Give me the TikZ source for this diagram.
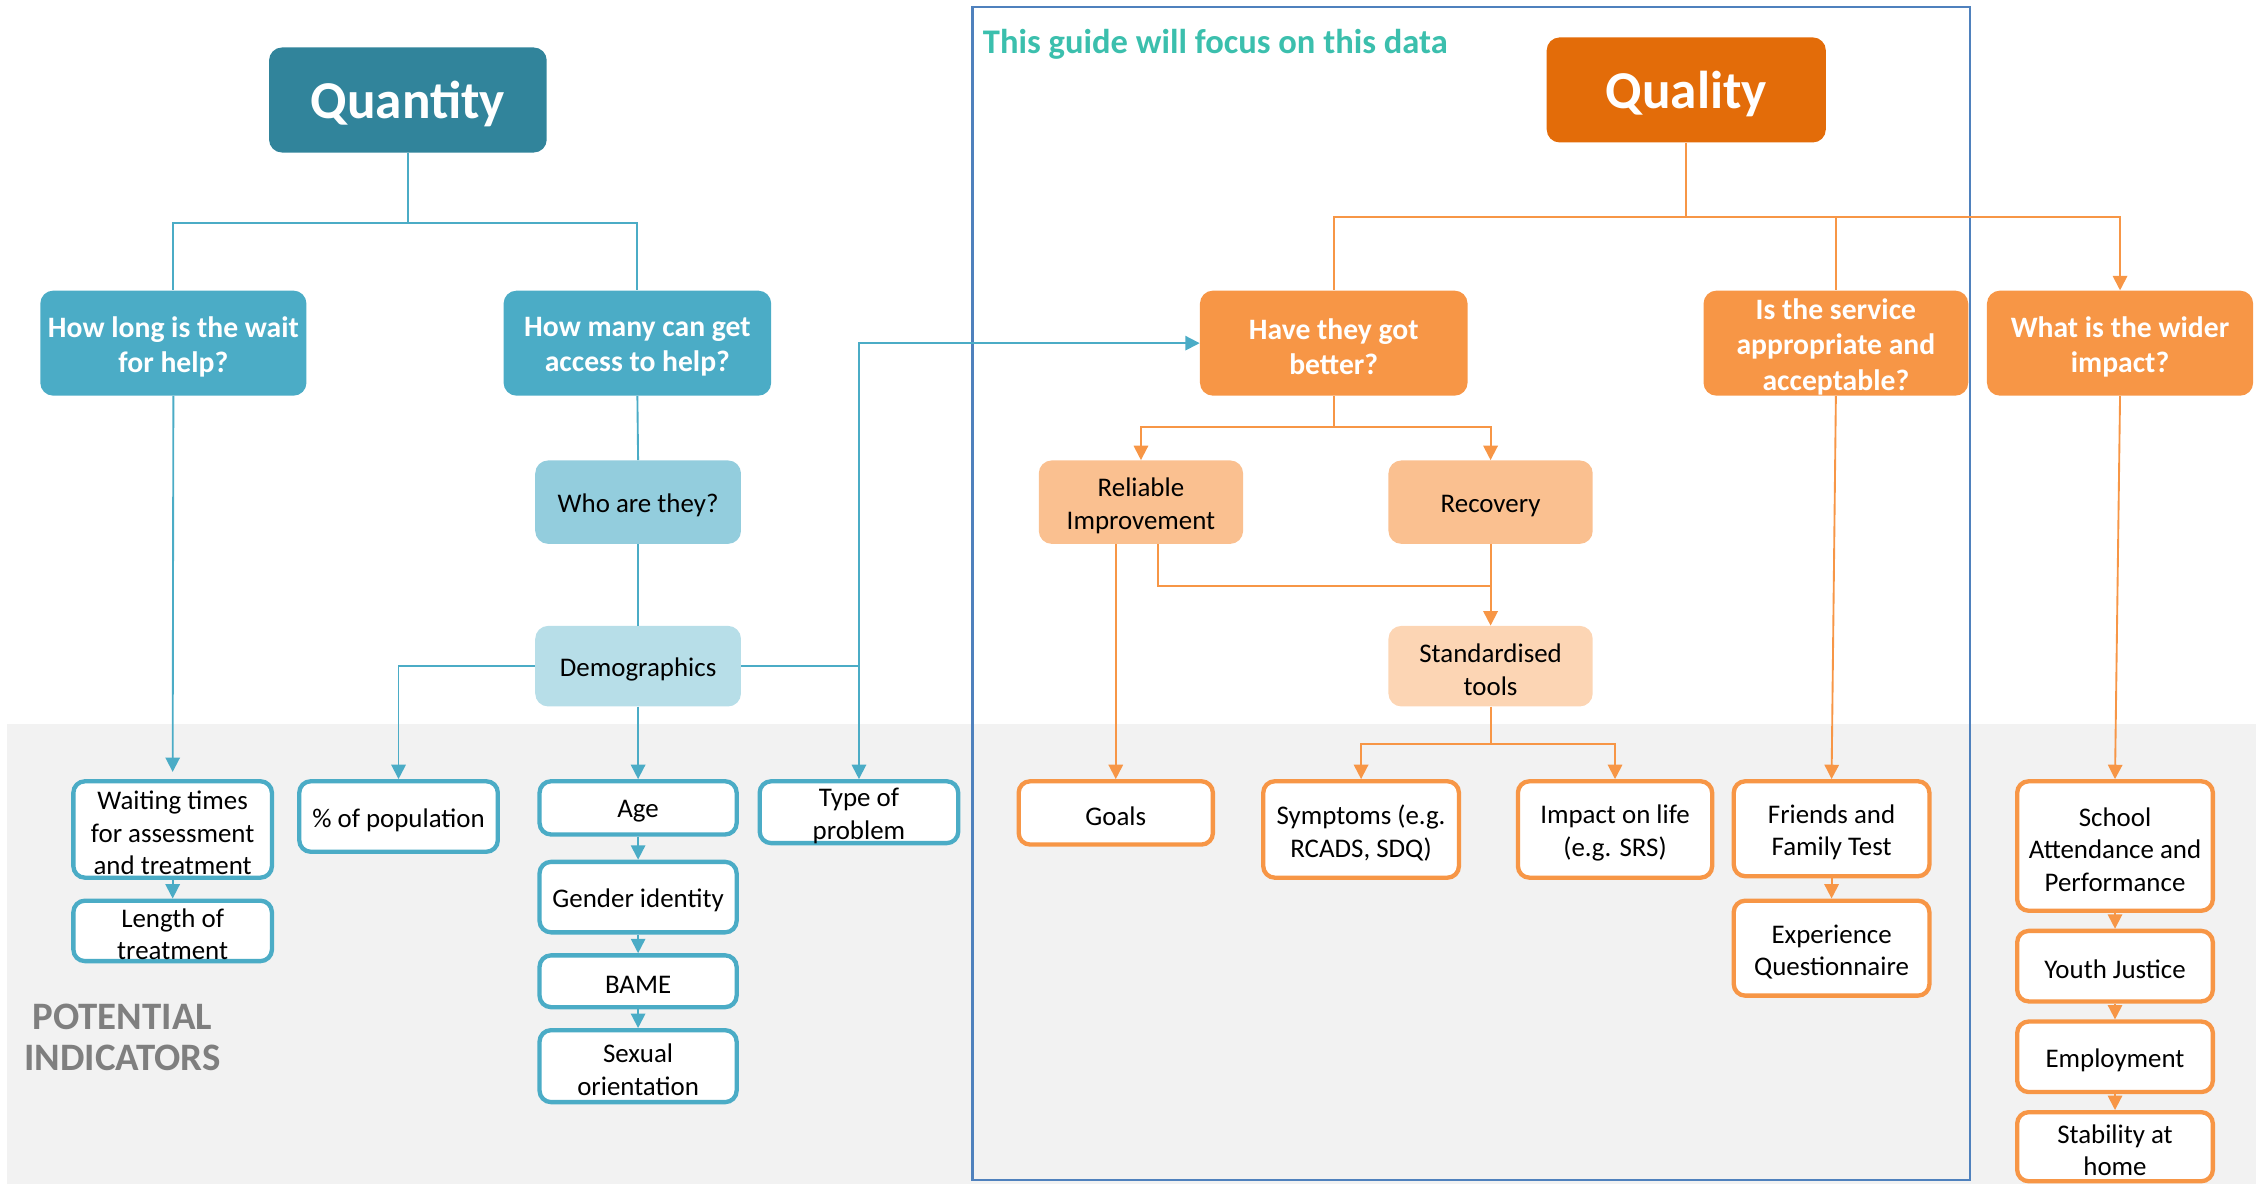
\documentclass[tikz,border=0pt]{standalone}
\usepackage{fontspec}
\setmainfont{Carlito}
\usetikzlibrary{arrows.meta}
\definecolor{qdark}{HTML}{31849B}
\definecolor{qmid}{HTML}{4BACC6}
\definecolor{qlight}{HTML}{93CDDD}
\definecolor{qlighter}{HTML}{B7DEE8}
\definecolor{odark}{HTML}{E36C09}
\definecolor{omid}{HTML}{F79646}
\definecolor{olight}{HTML}{FAC090}
\definecolor{olighter}{HTML}{FCD5B4}
\definecolor{bggrey}{HTML}{F2F2F2}
\definecolor{frameblue}{HTML}{4F81BD}
\definecolor{guideteal}{HTML}{3BBFAD}
\definecolor{potgrey}{HTML}{7F7F7F}
\newcommand\fs[2]{\fontsize{#1}{#2}\selectfont}
\newcommand\mybox[7]{%
  \node[#1,minimum width={(#4-#3)*1pt},minimum height={(#6-#5)*1pt}] (#2) at ({(#3+#4)/2},{(#5+#6)/2}) {};
  \node[#1, textonly] (#2-t) at (#2.center) {#7};}
\tikzset{
  basebox/.style={rounded corners=9pt, align=center, inner sep=0pt, font=\fs{18.7}{22.5}},
  textonly/.style={draw=none, fill=none, minimum width=0pt, minimum height=0pt, yshift=-2.5pt},
  bigq/.style={basebox, fill=qdark, text=white, font=\bfseries\fs{37}{42}},
  bigo/.style={basebox, fill=odark, text=white, font=\bfseries\fs{37}{42}},
  hdrq/.style={basebox, fill=qmid, text=white, font=\bfseries\fs{20.6}{24.5}},
  hdro/.style={basebox, fill=omid, text=white, font=\bfseries\fs{20.6}{24.5}},
  subq/.style={basebox, fill=#1},
  subo/.style={basebox, fill=#1},
  indq/.style={basebox, fill=white, draw=qmid, line width=3pt, rounded corners=8pt},
  indo/.style={basebox, fill=white, draw=omid, line width=3pt, rounded corners=8pt},
  bl/.style={draw=qmid, line width=1.3pt},
  blarr/.style={bl, -{Triangle[length=10pt,width=10pt]}},
  ol/.style={draw=omid, line width=1.3pt},
  olarr/.style={ol, -{Triangle[length=10pt,width=10pt]}},
}
\begin{document}
\begin{tikzpicture}[x=1pt,y=-1pt]
\useasboundingbox (0,0) rectangle (1568,823);
\fill[bggrey] (5,503) rectangle (1568,823);
\draw[frameblue, line width=1.6pt] (676,5) rectangle (1369,820);
\node[anchor=base west, text=guideteal, font=\bfseries\fs{24}{28}, inner sep=0pt] (guide) at (683,37) {This guide will focus on this data};
\node[text=potgrey, font=\bfseries\fs{27}{29}, align=center] (pot) at (85,721) {POTENTIAL\\INDICATORS};

% Quantity side
\mybox{bigq}{qty}{187}{380}{33}{106}{Quantity}
\mybox{hdrq}{howlong}{28}{213}{202}{275}{How long is the wait\\for help?}
\mybox{hdrq}{howmany}{350}{536}{202}{275}{How many can get\\access to help?}
\mybox{subq=qlight}{who}{372}{515}{320}{378}{Who are they?}
\mybox{subq=qlighter}{demo}{372}{515}{435}{491}{Demographics}
\mybox{indq}{waiting}{51}{189}{543}{610}{Waiting times\\for assessment\\and treatment}
\mybox{indq}{length}{51}{189}{626}{668}{Length of\\treatment}
\mybox{indq}{pop}{208}{346}{543}{592}{\% of population}
\mybox{indq}{age}{375}{512}{543}{580}{Age}
\mybox{indq}{gender}{375}{512}{599}{648}{Gender identity}
\mybox{indq}{bame}{375}{512}{664}{700}{BAME}
\mybox{indq}{sexual}{375}{512}{716}{766}{Sexual\\orientation}
\mybox{indq}{type}{528}{666}{543}{586}{Type of\\problem}

% Quality side
\mybox{bigo}{ql}{1075}{1269}{26}{99}{Quality}
\mybox{hdro}{hb}{834}{1020}{202}{275}{Have they got\\better?}
\mybox{hdro}{svc}{1184}{1368}{202}{275}{Is the service\\appropriate and\\acceptable?}
\mybox{hdro}{wider}{1381}{1566}{202}{275}{What is the wider\\impact?}
\mybox{subo=olight}{rel}{722}{864}{320}{378}{Reliable\\Improvement}
\mybox{subo=olight}{rec}{965}{1107}{320}{378}{Recovery}
\mybox{subo=olighter}{std}{965}{1107}{435}{491}{Standardised\\tools}
\mybox{indo}{goals}{708}{843}{543}{587}{Goals}
\mybox{indo}{sym}{878}{1014}{543}{610}{Symptoms (e.g.\\RCADS, SDQ)}
\mybox{indo}{imp}{1055}{1190}{543}{610}{Impact on life\\(e.g. SRS)}
\mybox{indo}{friends}{1205}{1341}{543}{609}{Friends and\\Family Test}
\mybox{indo}{exp}{1205}{1341}{626}{692}{Experience\\Questionnaire}
\mybox{indo}{school}{1402}{1538}{543}{633}{School\\Attendance and\\Performance}
\mybox{indo}{youth}{1402}{1538}{647}{696}{Youth Justice}
\mybox{indo}{emp}{1402}{1538}{710}{759}{Employment}
\mybox{indo}{stab}{1402}{1538}{773}{821}{Stability at\\home}

% Quantity connectors
\coordinate (qsplit) at (283.5,155);
\draw[bl] (qty.south) -- (qsplit) -| (howlong.north);
\draw[bl] (qsplit) -| (howmany.north);
\draw[blarr, shorten >=5pt] (howlong.south) -- (waiting.north);
\draw[bl] (howmany.south) -- (who.north);
\draw[bl] (who.south) -- (demo.north);
\draw[blarr] (demo.west) -| (pop.north);
\draw[blarr] (demo.south) -- (age.north);
\draw[blarr] (demo.east) -| (type.north);
\draw[blarr] (demo.east -| type.north) |- (hb.west);
\draw[blarr] (waiting.south) -- (length.north);
\draw[blarr] (age.south) -- (gender.north);
\draw[blarr] (gender.south) -- (bame.north);
\draw[blarr] (bame.south) -- (sexual.north);

% Quality connectors
\coordinate (osplit) at (1172,151);
\draw[ol] (ql.south) -- (osplit);
\draw[ol] (osplit) -| (hb.north);
\draw[ol] (osplit) -| (svc.north);
\draw[olarr] (osplit) -| (wider.north);
\coordinate (hbsplit) at (927,297);
\draw[ol] (hb.south) -- (hbsplit);
\draw[olarr] (hbsplit) -| (rel.north);
\draw[olarr] (hbsplit) -| (rec.north);
\draw[olarr] (rel.south -| goals.north) -- (goals.north);
\coordinate (relstd) at (1036,407);
\draw[ol] ([xshift=12pt]rel.south) |- (relstd);
\draw[olarr] (rec.south) -- (std.north);
\coordinate (stdsplit) at (1036,517);
\draw[ol] (std.south) -- (stdsplit);
\draw[olarr] (stdsplit) -| (sym.north);
\draw[olarr] (stdsplit) -| (imp.north);
\draw[olarr] (svc.south) -- (friends.north);
\draw[olarr] (friends.south) -- (exp.north);
\draw[olarr] (wider.south) -- (school.north);
\draw[olarr] (school.south) -- (youth.north);
\draw[olarr] (youth.south) -- (emp.north);
\draw[olarr] (emp.south) -- (stab.north);
\end{tikzpicture}
\end{document}
